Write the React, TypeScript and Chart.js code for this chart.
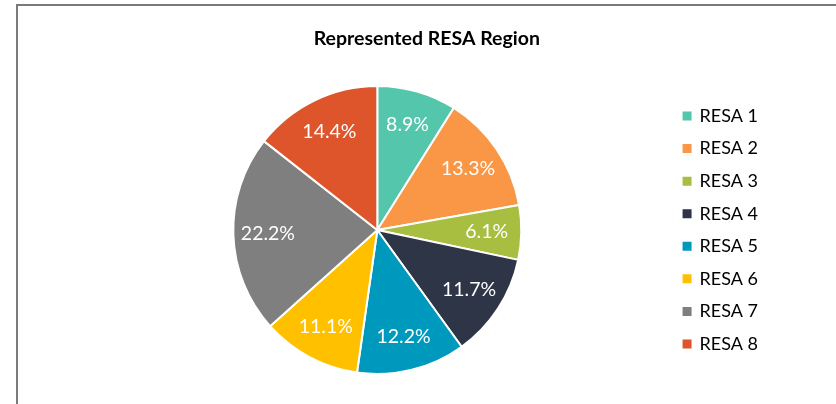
import React, { useEffect, useRef } from "react";
import { Chart, registerables } from "chart.js";

Chart.register(...registerables);

const categories = ["RESA 1", "RESA 2", "RESA 3", "RESA 4", "RESA 5", "RESA 6", "RESA 7", "RESA 8"];
const shares = [8.9, 13.3, 6.1, 11.7, 12.2, 11.1, 22.2, 14.4];
const sliceColors = ["#53C6AC", "#F99746", "#A8BE41", "#2E3546", "#0099BE", "#FFC000", "#7F7F7F", "#DE552C"];
const chartTitle = "Represented RESA Region";

const FONT = "Lato, 'Open Sans', sans-serif";

const sliceLabels = {
  id: "sliceLabels",
  afterDatasetsDraw(chart: any) {
    const meta = chart.getDatasetMeta(0);
    const ctx = chart.ctx;
    ctx.save();
    ctx.fillStyle = "#ffffff";
    ctx.font = `19.5px ${FONT}`;
    ctx.textAlign = "center";
    ctx.textBaseline = "middle";
    meta.data.forEach((arc: any, i: number) => {
      const p = arc.getProps(["x", "y", "startAngle", "endAngle", "outerRadius"], true);
      const mid = (p.startAngle + p.endAngle) / 2;
      const r = p.outerRadius * 0.76;
      const x = p.x + Math.cos(mid) * r;
      const y = p.y + Math.sin(mid) * r;
      ctx.fillText(shares[i].toFixed(1) + "%", x, y);
    });
    ctx.restore();
  },
};

export default function App() {
  const canvasRef = useRef<HTMLCanvasElement | null>(null);

  useEffect(() => {
    if (!canvasRef.current) return;
    const chart = new Chart(canvasRef.current, {
      type: "pie",
      data: {
        labels: categories,
        datasets: [
          {
            data: shares,
            backgroundColor: sliceColors,
            borderColor: "#ffffff",
            borderWidth: 2,
            hoverOffset: 0,
          },
        ],
      },
      options: {
        animation: false,
        responsive: false,
        maintainAspectRatio: false,
        layout: { padding: { left: 85.6, right: 68, top: 0, bottom: 29 } },
        plugins: {
          title: {
            display: true,
            text: chartTitle,
            color: "#000000",
            font: { family: FONT, size: 19.5, weight: "bold" },
            padding: { top: 27.3, bottom: 34.3 },
          },
          legend: {
            position: "right",
            fullSize: false,
            labels: {
              boxWidth: 7,
              boxHeight: 7,
              padding: 14.57,
              color: "#000000",
              font: { family: FONT, size: 18 },
              generateLabels(chart: any) {
                const items = Chart.overrides.pie.plugins.legend.labels.generateLabels(chart);
                return items.map((it: any) => ({ ...it, strokeStyle: it.fillStyle, lineWidth: 2 }));
              },
            },
          },
          tooltip: { enabled: false },
        },
      },
      plugins: [sliceLabels],
    });
    return () => chart.destroy();
  }, []);

  return (
    <div style={{ position: "fixed", left: 0, top: 0, width: 836, height: 404, overflow: "hidden", background: "#ffffff" }}>
      <div
        style={{
          position: "absolute",
          left: 16,
          top: 4,
          width: 900,
          height: 500,
          border: "2px solid #7a7a7a",
          boxSizing: "border-box",
        }}
      />
      <canvas
        ref={canvasRef}
        width={836}
        height={404}
        style={{ position: "absolute", left: 0, top: 0, width: 836, height: 404 }}
      />
    </div>
  );
}
